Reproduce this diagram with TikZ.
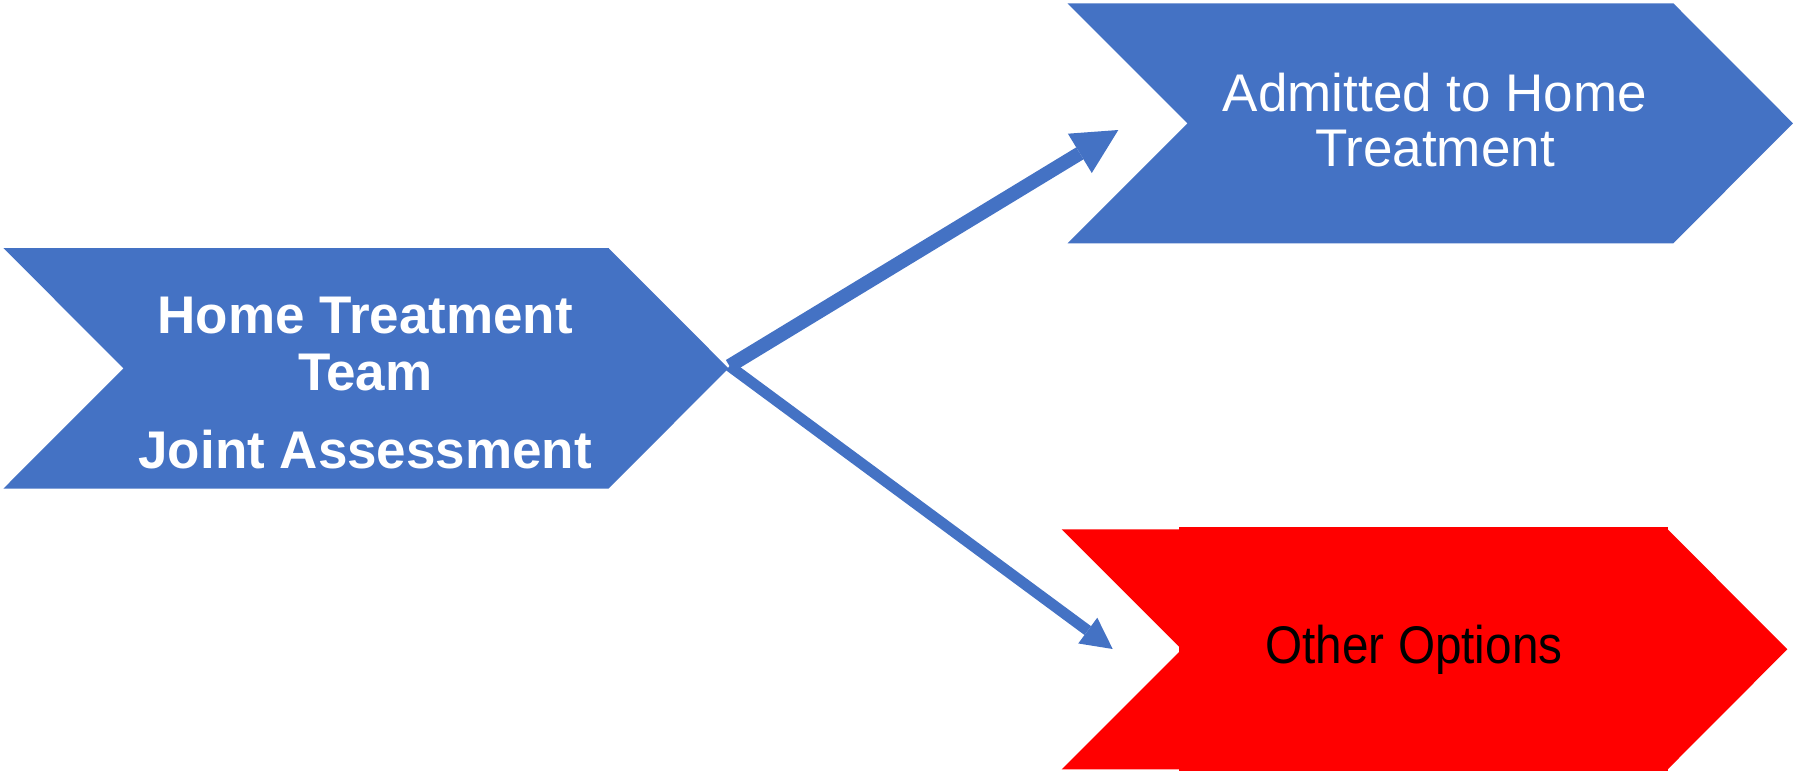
\documentclass[tikz,border=0pt]{standalone}
\usepackage{fontspec}
\setmainfont{Liberation Sans}
\usetikzlibrary{arrows.meta}
\definecolor{pblue}{HTML}{4472C4}
\definecolor{pred}{HTML}{FF0000}
\begin{document}
\begin{tikzpicture}[x=1pt,y=-1pt,
  lbl/.style={anchor=base,inner sep=0pt,font=\fontsize{53}{57}\selectfont},
  conn/.style={draw=pblue,line join=miter}]
\useasboundingbox (0,0) rectangle (1793,772);
% chevrons
\fill[pblue] (3.3,248) -- (608.5,248) -- (728.5,368.3) -- (608.5,488.7) -- (3.3,488.7) -- (123.5,368.3) -- cycle;
\fill[pblue] (1067.5,3.3) -- (1673.3,3.3) -- (1793,123.3) -- (1673.3,243.3) -- (1067.5,243.3) -- (1187.5,123.3) -- cycle;
\fill[pred] (1061.7,529.3) -- (1667.7,529.3) -- (1787.3,649.3) -- (1667.7,769.3) -- (1061.7,769.3) -- (1181.7,649.3) -- cycle;
\fill[pred] (1179,526.7) rectangle (1667.7,770.7);
% texts
\node[lbl,text=white] (hometreat) at (365.3,333.3) {\bfseries Home Treatment};
\node[lbl,text=white] (team) at (365.3,390.7) {\bfseries Team};
\node[lbl,text=white] (joint) at (365.3,468.3) {\bfseries Joint Assessment};
\node[lbl,text=white] (admitted) at (1435,111.7) {Admitted to Home};
\node[lbl,text=white] (treatment) at (1435,166.7) {Treatment};
\node[lbl,text=black,xscale=0.9] (other) at (1414,663.5) {Other Options};
% connectors
\coordinate (src) at (729.5,366);
\coordinate (admIn) at (1118.3,130);
\coordinate (othIn) at (1112.7,649);
\draw[conn,line width=14pt,-{Triangle[length=45pt,width=46pt,line width=0pt]}] (src) -- (admIn);
\draw[conn,line width=11pt,-{Triangle[length=31pt,width=32pt,line width=0pt]}] (src) -- (othIn);
\end{tikzpicture}
\end{document}
